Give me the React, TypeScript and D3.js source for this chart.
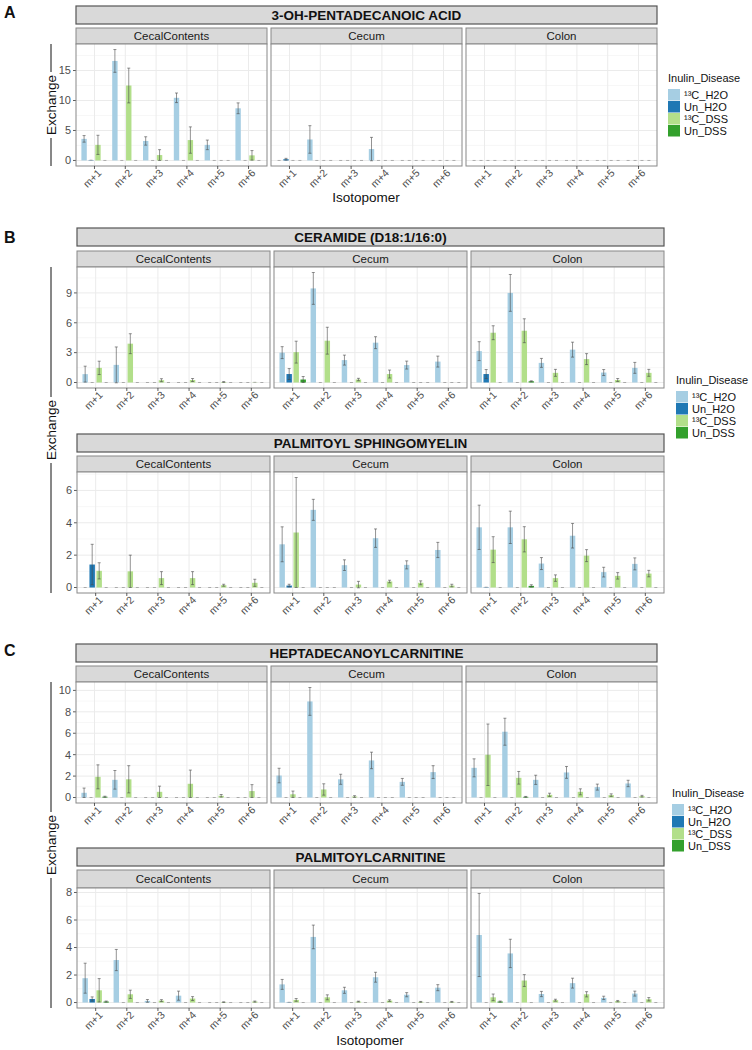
import React from "react";
import * as d3 from "d3";

const isotopomers = ["m+1", "m+2", "m+3", "m+4", "m+5", "m+6"];
const tissues = ["CecalContents", "Cecum", "Colon"];
const groups = ["13C_H2O", "Un_H2O", "13C_DSS", "Un_DSS"];
const groupLabels = ["¹³C_H2O", "Un_H2O", "¹³C_DSS", "Un_DSS"];
const groupColors = ["#a6cee3", "#1f78b4", "#b2df8a", "#33a02c"];
const legendTitle = "Inulin_Disease";

const Z = [0, 0, 0, 0, 0, 0];

// values are [tissue][group][isotopomer]
const acidMean = [
  [[3.6, 16.6, 3.25, 10.45, 2.6, 8.7], [0.05, 0, 0, 0, 0, 0], [2.6, 12.5, 0.9, 3.4, 0, 0.85], Z],
  [[0, 3.5, 0, 1.9, 0, 0], [0.2, 0, 0, 0, 0, 0], Z, Z],
  [Z, Z, Z, Z],
];
const acidErr = [
  [[0.55, 1.9, 0.7, 0.8, 0.8, 0.9], Z, [1.6, 2.9, 0.9, 2.2, 0, 0.8], Z],
  [[0, 2.3, 0, 1.95, 0, 0], [0.15, 0, 0, 0, 0, 0], Z, Z],
  [Z, Z, Z, Z],
];

const ceramideMean = [
  [[0.84, 1.77, 0, 0, 0, 0], Z, [1.47, 3.9, 0.23, 0.25, 0.05, 0.02], Z],
  [[3.0, 9.45, 2.25, 4.0, 1.75, 2.1], [0.85, 0, 0, 0, 0, 0], [3.05, 4.2, 0.3, 0.85, 0, 0], [0.3, 0, 0, 0, 0, 0]],
  [[3.15, 9.0, 1.97, 3.3, 1.0, 1.47], [0.85, 0, 0, 0, 0, 0], [5.0, 5.2, 0.97, 2.35, 0.25, 0.97], [0, 0.12, 0, 0, 0, 0]],
];
const ceramideErr = [
  [[0.8, 1.8, 0, 0, 0, 0], Z, [0.67, 1.0, 0.15, 0.15, 0.04, 0], Z],
  [[0.6, 1.6, 0.5, 0.6, 0.4, 0.55], [0.55, 0, 0, 0, 0, 0], [1.1, 1.35, 0.12, 0.4, 0, 0], [0.3, 0, 0, 0, 0, 0]],
  [[0.95, 1.85, 0.45, 0.75, 0.3, 0.55], [0.45, 0, 0, 0, 0, 0], [0.7, 1.2, 0.35, 0.55, 0.15, 0.35], [0, 0.05, 0, 0, 0, 0]],
];

const sphingoMean = [
  [Z, [1.42, 0, 0, 0, 0, 0], [1.03, 1.0, 0.58, 0.58, 0.14, 0.29], Z],
  [[2.67, 4.8, 1.38, 3.05, 1.4, 2.32], [0.12, 0, 0, 0, 0, 0], [3.4, 0, 0.18, 0.37, 0.29, 0.12], Z],
  [[3.72, 3.72, 1.48, 3.2, 0.95, 1.46], [0.02, 0, 0, 0, 0, 0], [2.34, 2.98, 0.58, 1.97, 0.72, 0.86], [0, 0.1, 0, 0, 0, 0]],
];
const sphingoErr = [
  [Z, [1.25, 0, 0, 0, 0, 0], [0.5, 1.0, 0.4, 0.4, 0.06, 0.22], Z],
  [[1.08, 0.65, 0.33, 0.57, 0.25, 0.47], [0.08, 0, 0, 0, 0, 0], [3.4, 0, 0.2, 0.08, 0.12, 0.08], Z],
  [[1.37, 1.0, 0.37, 0.76, 0.3, 0.37], Z, [0.8, 0.78, 0.2, 0.37, 0.2, 0.2], [0, 0.07, 0, 0, 0, 0]],
];

const heptaMean = [
  [[0.44, 1.65, 0, 0, 0, 0], Z, [1.93, 1.7, 0.53, 1.28, 0.16, 0.6], [0.07, 0, 0, 0, 0, 0]],
  [[2.05, 8.97, 1.7, 3.46, 1.46, 2.37], Z, [0.3, 0.75, 0.09, 0, 0, 0], Z],
  [[2.77, 6.14, 1.65, 2.34, 0.97, 1.31], Z, [3.99, 1.84, 0.25, 0.53, 0.22, 0.12], [0, 0.06, 0, 0, 0, 0]],
];
const heptaErr = [
  [[0.44, 0.87, 0, 0, 0, 0], Z, [1.12, 1.27, 0.53, 1.28, 0.12, 0.6], [0.05, 0, 0, 0, 0, 0]],
  [[0.68, 1.3, 0.47, 0.77, 0.32, 0.6], Z, [0.3, 0.53, 0.08, 0, 0, 0], Z],
  [[0.84, 1.26, 0.43, 0.55, 0.28, 0.3], Z, [2.87, 0.59, 0.15, 0.28, 0.12, 0.08], [0, 0.04, 0, 0, 0, 0]],
];

const palmMean = [
  [[1.77, 3.09, 0.12, 0.5, 0, 0], [0.26, 0, 0, 0, 0, 0], [0.89, 0.6, 0.14, 0.29, 0.03, 0.07], [0.07, 0, 0, 0, 0, 0]],
  [[1.32, 4.77, 0.89, 1.84, 0.57, 1.08], [0.02, 0, 0, 0, 0, 0], [0.19, 0.38, 0.07, 0.14, 0.05, 0.05], Z],
  [[4.91, 3.57, 0.62, 1.41, 0.34, 0.65], Z, [0.38, 1.6, 0.17, 0.6, 0.1, 0.24], [0.07, 0, 0, 0, 0, 0]],
];
const palmErr = [
  [[1.09, 0.77, 0.1, 0.33, 0, 0], [0.15, 0, 0, 0, 0, 0], [0.85, 0.3, 0.07, 0.14, 0.02, 0.04], [0.04, 0, 0, 0, 0, 0]],
  [[0.36, 0.86, 0.22, 0.36, 0.15, 0.22], Z, [0.1, 0.18, 0.03, 0.06, 0.03, 0.03], Z],
  [[3.02, 1.03, 0.19, 0.36, 0.12, 0.18], Z, [0.24, 0.43, 0.07, 0.19, 0.05, 0.12], [0.04, 0, 0, 0, 0, 0]],
];

const FONT = "'Liberation Sans', Arial, Helvetica, sans-serif";

type RowProps = {
  title: string;
  mean: number[][][];
  err: number[][][];
  tickStep: number;
  x0s: number[];
  width: number;
  titleY: [number, number];
  stripY: [number, number];
  plotY: [number, number];
};

function FacetRow({ title, mean, err, tickStep, x0s, width, titleY, stripY, plotY }: RowProps) {
  const maxV = d3.max(mean.flatMap((t, ti) => t.flatMap((g, gi) => g.map((v, ii) => v + err[ti][gi][ii])))) as number;
  const pad = maxV * 0.05;
  const y = d3.scaleLinear().domain([-pad, maxV + pad]).range([plotY[1], plotY[0]]);
  const majors = d3.range(0, maxV + pad + 1e-9, tickStep);
  const minors = d3.range(tickStep / 2, maxV + pad, tickStep);
  const left = x0s[0];
  const right = x0s[x0s.length - 1] + width;
  return (
    <g>
      <rect x={left} y={titleY[0]} width={right - left} height={titleY[1] - titleY[0]} fill="#d9d9d9" stroke="#555" strokeWidth={1.2} />
      <text x={(left + right) / 2} y={(titleY[0] + titleY[1]) / 2} dy="0.36em" textAnchor="middle" fontWeight="bold" fontSize={13.5} fill="#111">{title}</text>
      {majors.map((t) => (
        <g key={"yt" + t}>
          <line x1={left - 3} x2={left} y1={y(t)} y2={y(t)} stroke="#333" strokeWidth={0.8} />
          <text x={left - 5} y={y(t)} dy="0.35em" textAnchor="end" fontSize={11} fill="#4d4d4d">{t}</text>
        </g>
      ))}
      {tissues.map((tissue, ti) => {
        const x0 = x0s[ti];
        const x = d3.scalePoint<string>().domain(isotopomers).range([x0, x0 + width]).padding(0.6);
        const step = x.step();
        const dodge = d3.scaleBand<string>().domain(groups).range([-0.45 * step, 0.45 * step]);
        const barW = 0.175 * step;
        return (
          <g key={tissue}>
            <rect x={x0} y={stripY[0]} width={width} height={stripY[1] - stripY[0]} fill="#d9d9d9" stroke="#888" strokeWidth={1} />
            <text x={x0 + width / 2} y={(stripY[0] + stripY[1]) / 2} dy="0.36em" textAnchor="middle" fontSize={11.5} fill="#1a1a1a">{tissue}</text>
            <rect x={x0} y={plotY[0]} width={width} height={plotY[1] - plotY[0]} fill="#fff" />
            {minors.map((t) => (
              <line key={"mn" + t} x1={x0} x2={x0 + width} y1={y(t)} y2={y(t)} stroke="#f2f2f2" strokeWidth={0.6} />
            ))}
            {majors.map((t) => (
              <line key={"mj" + t} x1={x0} x2={x0 + width} y1={y(t)} y2={y(t)} stroke="#ebebeb" strokeWidth={1} />
            ))}
            {isotopomers.map((iso) => (
              <line key={"vg" + iso} x1={x(iso)} x2={x(iso)} y1={plotY[0]} y2={plotY[1]} stroke="#ebebeb" strokeWidth={1} />
            ))}
            {groups.map((g, gi) =>
              isotopomers.map((iso, ii) => {
                const v = mean[ti][gi][ii];
                const cx = (x(iso) as number) + (dodge(g) as number) + dodge.bandwidth() / 2;
                return v > 0 ? (
                  <rect key={g + iso} x={cx - barW / 2} y={y(v)} width={barW} height={y(0) - y(v)} fill={groupColors[gi]} />
                ) : null;
              })
            )}
            {groups.map((g, gi) =>
              isotopomers.map((iso, ii) => {
                const v = mean[ti][gi][ii];
                const e = err[ti][gi][ii];
                const cx = (x(iso) as number) + (dodge(g) as number) + dodge.bandwidth() / 2;
                const hi = y(v + e);
                const lo = y(v - e);
                return e > 0 ? (
                  <g key={"e" + g + iso} stroke="#4a4a4a" strokeOpacity={0.75} strokeWidth={0.8}>
                    <line x1={cx} x2={cx} y1={lo} y2={hi} />
                    <line x1={cx - 1.5} x2={cx + 1.5} y1={hi} y2={hi} />
                    <line x1={cx - 1.5} x2={cx + 1.5} y1={lo} y2={lo} />
                  </g>
                ) : (
                  <line key={"e" + g + iso} x1={cx - 1.5} x2={cx + 1.5} y1={y(v)} y2={y(v)} stroke="#777" strokeOpacity={0.7} strokeWidth={0.8} />
                );
              })
            )}
            <rect x={x0} y={plotY[0]} width={width} height={plotY[1] - plotY[0]} fill="none" stroke="#888" strokeWidth={1} />
            {isotopomers.map((iso) => (
              <g key={"xt" + iso}>
                <line x1={x(iso)} x2={x(iso)} y1={plotY[1]} y2={plotY[1] + 3} stroke="#333" strokeWidth={0.8} />
                <text
                  transform={`translate(${(x(iso) as number) + 4},${plotY[1] + 4}) rotate(-45)`}
                  textAnchor="end"
                  dy="0.5em"
                  fontSize={10.5}
                  fill="#4d4d4d"
                >
                  {iso}
                </text>
              </g>
            ))}
          </g>
        );
      })}
    </g>
  );
}

function YLabel({ x, top, bottom, center }: { x: number; top: number; bottom: number; center: number }) {
  const half = 33;
  return (
    <g>
      <line x1={x} x2={x} y1={top} y2={center - half} stroke="#111" strokeWidth={1} />
      <line x1={x} x2={x} y1={center + half} y2={bottom} stroke="#111" strokeWidth={1} />
      <text transform={`translate(${x},${center}) rotate(-90)`} textAnchor="middle" dy="0.36em" fontSize={13.5} fill="#111">Exchange</text>
    </g>
  );
}

function Legend({ x, y }: { x: number; y: number }) {
  const gap = 12;
  return (
    <g>
      <text x={x} y={y} dy="0.36em" fontSize={11} fill="#111">{legendTitle}</text>
      {groups.map((g, gi) => (
        <g key={g}>
          <rect x={x} y={y + 11 + gi * gap} width={12} height={11.5} fill={groupColors[gi]} />
          <text x={x + 16} y={y + 11 + gi * gap + 5.8} dy="0.36em" fontSize={11} fill="#111">{groupLabels[gi]}</text>
        </g>
      ))}
    </g>
  );
}

export default function App() {
  const xsA = [76, 271, 466];
  const xsB = [77, 274, 471];
  return (
    <div style={{ position: "absolute", left: 0, top: 0 }}>
      <svg width={752} height={1050} style={{ display: "block", fontFamily: FONT }}>
        <rect width={752} height={1050} fill="#fff" />
        <text x={4} y={18} fontSize={16} fontWeight="bold" fill="#111">A</text>
        <text x={4} y={243} fontSize={16} fontWeight="bold" fill="#111">B</text>
        <text x={4} y={656} fontSize={16} fontWeight="bold" fill="#111">C</text>

        <FacetRow title="3-OH-PENTADECANOIC ACID" mean={acidMean} err={acidErr} tickStep={5}
          x0s={xsA} width={191} titleY={[6, 24]} stripY={[28, 44]} plotY={[44, 166]} />
        <YLabel x={51} top={44} bottom={166} center={105} />
        <text x={366} y={197} dy="0.36em" textAnchor="middle" fontSize={13.5} fill="#111">Isotopomer</text>
        <Legend x={668} y={78} />

        <FacetRow title="CERAMIDE (D18:1/16:0)" mean={ceramideMean} err={ceramideErr} tickStep={3}
          x0s={xsB} width={193} titleY={[228, 246]} stripY={[251, 267]} plotY={[267, 388]} />
        <FacetRow title="PALMITOYL SPHINGOMYELIN" mean={sphingoMean} err={sphingoErr} tickStep={2}
          x0s={xsB} width={193} titleY={[434, 452]} stripY={[456, 472]} plotY={[472, 593]} />
        <YLabel x={51} top={267} bottom={593} center={430} />
        <Legend x={676} y={380} />

        <FacetRow title="HEPTADECANOYLCARNITINE" mean={heptaMean} err={heptaErr} tickStep={2}
          x0s={xsA} width={191} titleY={[644, 662]} stripY={[666, 682]} plotY={[682, 803]} />
        <FacetRow title="PALMITOYLCARNITINE" mean={palmMean} err={palmErr} tickStep={2}
          x0s={xsB} width={193} titleY={[848, 866]} stripY={[870, 888]} plotY={[888, 1008]} />
        <YLabel x={51} top={682} bottom={1008} center={845} />
        <text x={370} y={1040} dy="0.36em" textAnchor="middle" fontSize={13.5} fill="#111">Isotopomer</text>
        <Legend x={672} y={793} />
      </svg>
    </div>
  );
}
